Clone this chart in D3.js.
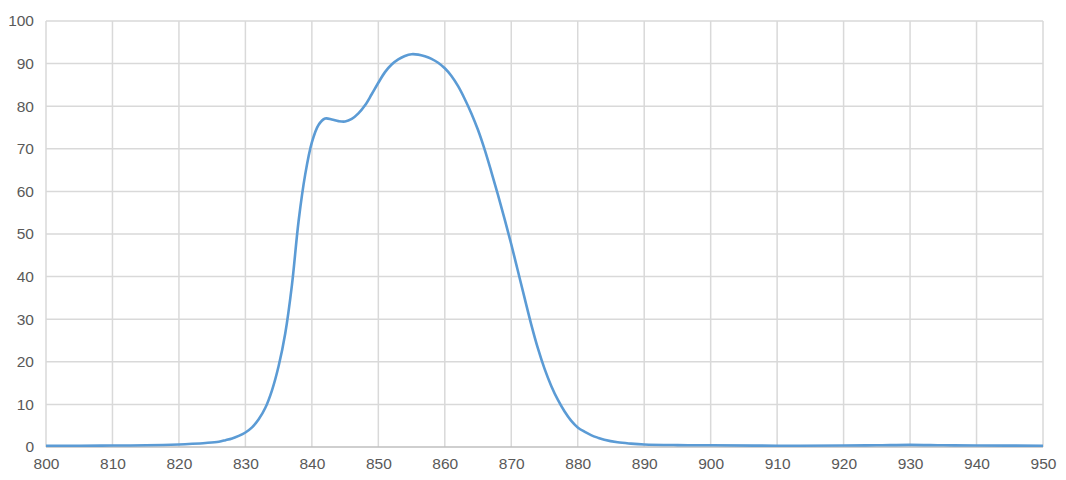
<!DOCTYPE html>
<html><head><meta charset="utf-8">
<script src="https://cdn.jsdelivr.net/npm/d3@7"></script>
<style>
html,body{margin:0;padding:0;background:#fff;}
svg{display:block;}
text{font-family:"Liberation Sans",Arial,sans-serif;font-size:15.5px;fill:#595959;}
</style></head>
<body>
<svg id="chart" width="1066" height="480"></svg>
<script>
const wavelengths = [800,805,810,815,820,822,824,826,827,828,829,830,831,832,833,834,835,836,837,838,839,840,841,842,843,844,845,846,847,848,849,850,851,852,853,854,855,856,857,858,859,860,861,862,863,864,865,866,867,868,869,870,871,872,873,874,875,876,877,878,879,880,881,882,883,884,886,888,890,895,900,910,920,925,930,935,940,950];
const transmission = [0.3,0.3,0.35,0.4,0.6,0.75,0.95,1.25,1.6,2.0,2.6,3.4,4.6,6.5,9.2,13.3,19,26.7,38,53,64,71.5,75.6,77.1,76.9,76.5,76.4,77,78.3,80.2,82.8,85.5,88,89.8,91,91.8,92.2,92.1,91.7,91.1,90.2,88.9,87.1,84.7,81.7,78.3,74.4,69.8,64.6,59.2,53.5,47.6,41.3,35,28.8,23.2,18.4,14.4,11.1,8.4,6.2,4.6,3.6,2.8,2.2,1.7,1.1,0.8,0.6,0.45,0.4,0.3,0.35,0.4,0.5,0.4,0.35,0.3];
const xTicks = [800,810,820,830,840,850,860,870,880,890,900,910,920,930,940,950];
const yTicks = [0,10,20,30,40,50,60,70,80,90,100];

const svg = d3.select("#chart");
const x = d3.scaleLinear().domain([800,950]).range([46,1043]);
const y = d3.scaleLinear().domain([0,100]).range([447,21]);

// grid
svg.append("g").selectAll("line").data(yTicks.filter(d=>d>0)).join("line")
  .attr("x1",x(800)).attr("x2",x(950))
  .attr("y1",d=>y(d)).attr("y2",d=>y(d))
  .attr("stroke","#d9d9d9").attr("stroke-width",1.5);
svg.append("g").selectAll("line").data(xTicks).join("line")
  .attr("x1",d=>x(d)).attr("x2",d=>x(d))
  .attr("y1",y(0)).attr("y2",y(100))
  .attr("stroke","#d9d9d9").attr("stroke-width",1.5);
// baseline
svg.append("line").attr("x1",x(800)).attr("x2",x(950))
  .attr("y1",y(0)).attr("y2",y(0)).attr("stroke","#bfbfbf").attr("stroke-width",1.5);

// axes labels via d3 axes
const yAxis = svg.append("g").attr("transform",`translate(${x(800)-12},0)`)
  .call(d3.axisLeft(y).tickValues(yTicks).tickSize(0).tickPadding(0));
yAxis.select(".domain").remove();
yAxis.selectAll("text").attr("fill","#595959").style("font-size","15.5px").style("font-family","Liberation Sans, Arial, sans-serif");

const xAxis = svg.append("g").attr("transform",`translate(0,${y(0)+11})`)
  .call(d3.axisBottom(x).tickValues(xTicks).tickSize(0).tickPadding(0).tickFormat(d3.format("d")));
xAxis.select(".domain").remove();
xAxis.selectAll("text").attr("fill","#595959").style("font-size","15.5px").style("font-family","Liberation Sans, Arial, sans-serif");

// line
const data = wavelengths.map((w,i)=>({w, v: transmission[i]}));
svg.append("path").datum(data)
  .attr("fill","none").attr("stroke","#5b9bd5").attr("stroke-width",2.6)
  .attr("stroke-linejoin","round")
  .attr("d", d3.line().x(d=>x(d.w)).y(d=>y(d.v)).curve(d3.curveCatmullRom.alpha(0.5)));
</script>
</body></html>
